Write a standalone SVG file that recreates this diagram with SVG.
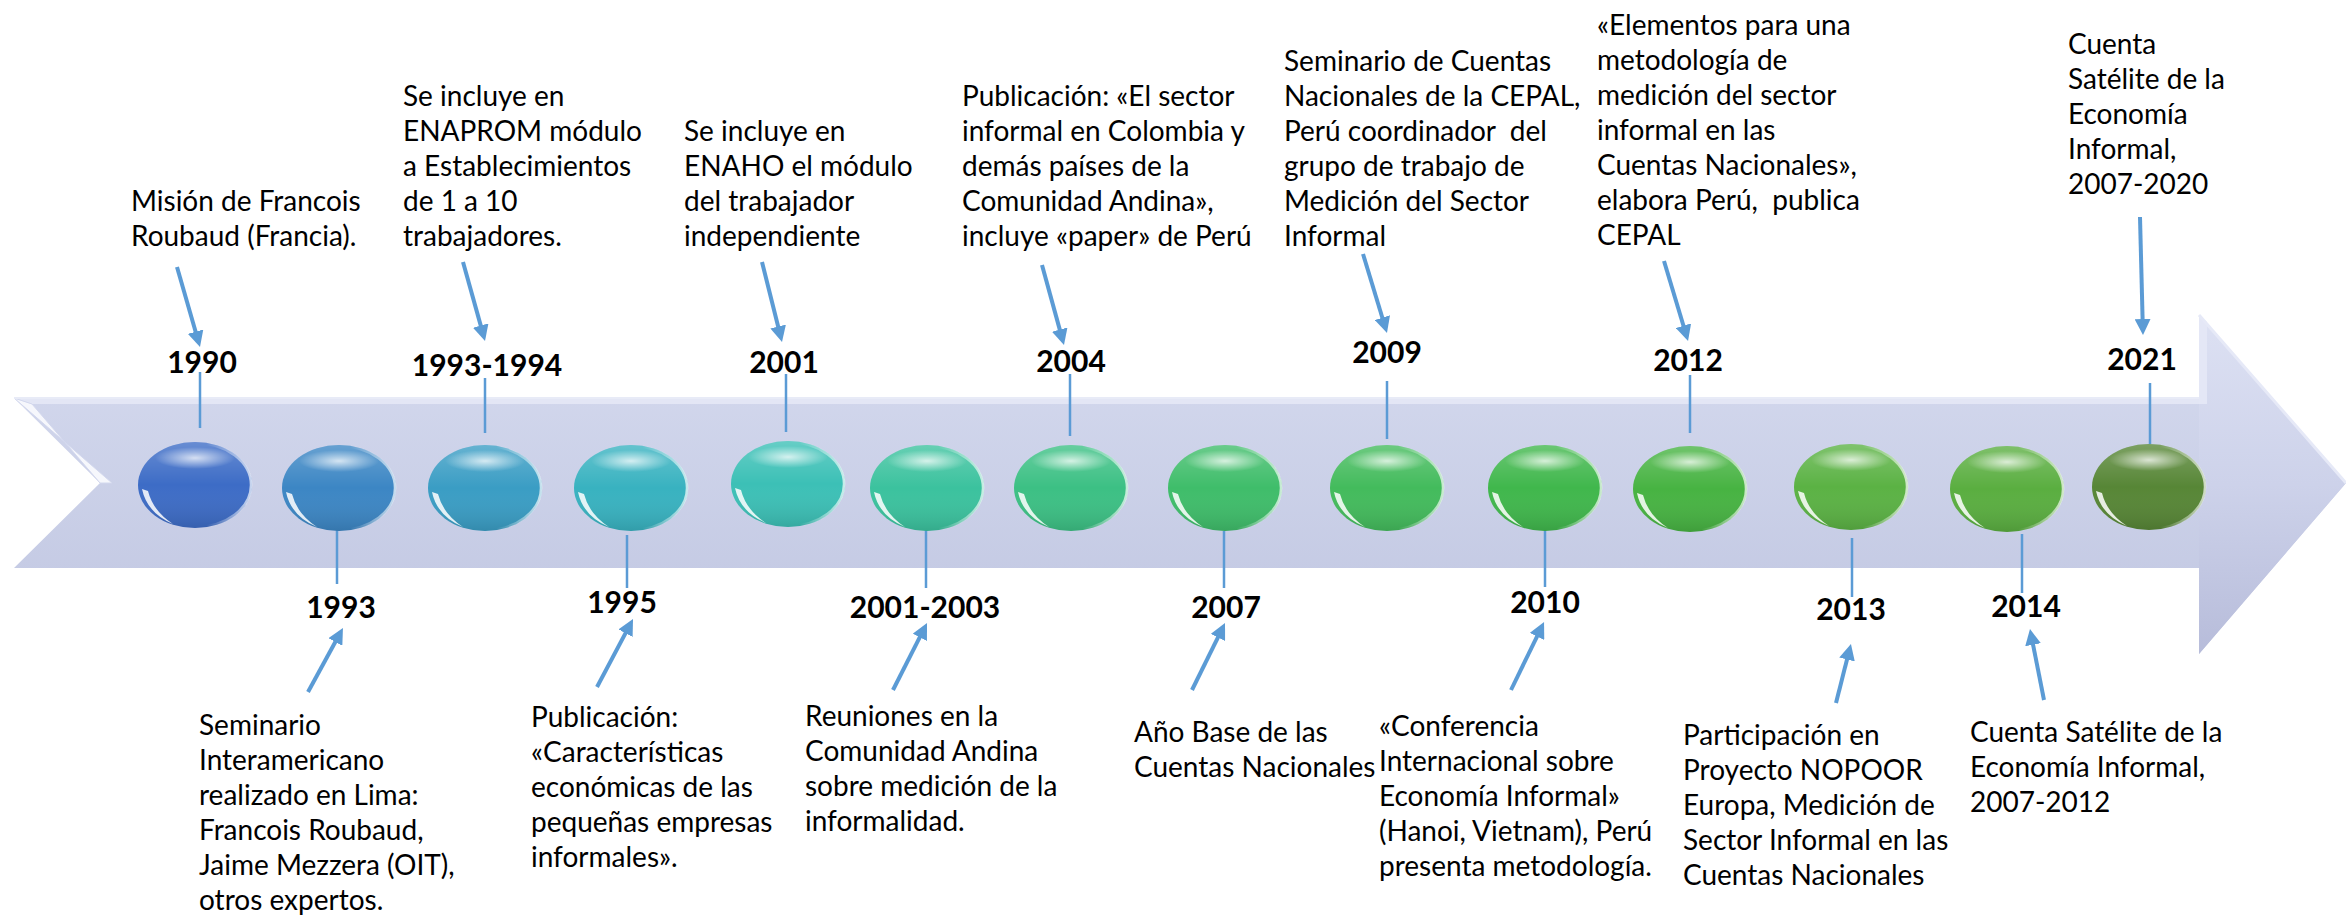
<svg xmlns="http://www.w3.org/2000/svg" xmlns:xlink="http://www.w3.org/1999/xlink" width="2346" height="916" viewBox="0 0 2346 916">
<defs>
<style>
.desc{font-family:Lato,"Liberation Sans",sans-serif;font-size:28px;fill:#000}
.year{font-family:Lato,"Liberation Sans",sans-serif;font-size:30px;font-weight:bold;fill:#000;text-anchor:middle}
.tick{stroke:#5b9bd5;stroke-width:2.5;fill:none}
.arr{stroke:#5b9bd5;stroke-width:4;fill:none;marker-end:url(#head)}
</style>
<marker id="head" markerUnits="userSpaceOnUse" viewBox="0 0 16 16" markerWidth="16" markerHeight="16" refX="4" refY="8" orient="auto">
<path d="M0,0 L16,8 L0,16 Z" fill="#5b9bd5"/>
</marker>
<linearGradient id="body" x1="0" y1="0" x2="0" y2="1">
<stop offset="0" stop-color="#d6dbef"/>
<stop offset="1" stop-color="#c0c6e1"/>
</linearGradient>
<linearGradient id="headg" x1="0" y1="0" x2="0" y2="1">
<stop offset="0" stop-color="#dde1f3"/>
<stop offset="0.5" stop-color="#cdd2ea"/>
<stop offset="1" stop-color="#b7bcda"/>
</linearGradient>
<linearGradient id="shade" x1="0" y1="0" x2="0" y2="1">
<stop offset="0" stop-color="#ffffff" stop-opacity="0.22"/>
<stop offset="0.5" stop-color="#ffffff" stop-opacity="0"/>
<stop offset="1" stop-color="#000000" stop-opacity="0.12"/>
</linearGradient>
<radialGradient id="hl" cx="0.5" cy="0.5" r="0.5">
<stop offset="0" stop-color="#ffffff" stop-opacity="0.75"/>
<stop offset="1" stop-color="#ffffff" stop-opacity="0"/>
</radialGradient>
<linearGradient id="rim" x1="0" y1="0" x2="1" y2="0">
<stop offset="0.6" stop-color="#ffffff" stop-opacity="0"/>
<stop offset="1" stop-color="#ffffff" stop-opacity="0.7"/>
</linearGradient>
<g id="gloss">
<ellipse rx="57" ry="43" fill="url(#shade)"/>
<ellipse cx="0" cy="-27" rx="40" ry="11" fill="url(#hl)"/>
<ellipse rx="56" ry="42" fill="none" stroke="url(#rim)" stroke-width="2.5"/>
<path d="M-53,4 Q-48,28 -22,39 Q-42,26 -47,6 Z" fill="#ffffff" fill-opacity="0.85"/>
</g>
</defs>

<g id="timeline-arrow">
<path d="M14,398 L2199,398 L2199,315 L2346,483 L2199,654 L2199,568 L14,568 L100,483 Z" fill="url(#body)"/>
<path d="M2199,315 L2346,483 L2199,654 Z" fill="url(#headg)"/>
<path d="M14,398 L2199,398 L2199,404 L32,404 Z" fill="#e3e6f5"/>
<path d="M14,398 L112,483 L100,483 L32,404 Z" fill="#f6f7fc" stroke="#d3d8ee" stroke-width="1"/>
<path d="M2199,315 L2207,322 L2207,404 L2199,404 Z" fill="#e4e7f6"/>
<path d="M2199,315 L2346,483" stroke="#e6e9f7" stroke-width="3" fill="none"/>
<path d="M14,398 L2199,398" stroke="#e8ebf7" stroke-width="2" fill="none"/>
</g>

<g id="connectors">
<line class="tick" x1="200" y1="372" x2="200" y2="428"/>
<line class="tick" x1="485" y1="378" x2="485" y2="433"/>
<line class="tick" x1="786" y1="374" x2="786" y2="432"/>
<line class="tick" x1="1070" y1="374" x2="1070" y2="436"/>
<line class="tick" x1="1387" y1="381" x2="1387" y2="439"/>
<line class="tick" x1="1690" y1="375" x2="1690" y2="433"/>
<line class="tick" x1="2150" y1="383" x2="2150" y2="444"/>
<line class="tick" x1="337" y1="527" x2="337" y2="584"/>
<line class="tick" x1="627" y1="535" x2="627" y2="588"/>
<line class="tick" x1="926" y1="529" x2="926" y2="588"/>
<line class="tick" x1="1224" y1="531" x2="1224" y2="588"/>
<line class="tick" x1="1545" y1="530" x2="1545" y2="587"/>
<line class="tick" x1="1852" y1="538" x2="1852" y2="597"/>
<line class="tick" x1="2022" y1="534" x2="2022" y2="593"/>
<line class="arr" x1="177" y1="267" x2="196.7" y2="335.5"/>
<line class="arr" x1="463" y1="262" x2="481.8" y2="329.4"/>
<line class="arr" x1="762" y1="262" x2="779.1" y2="330.4"/>
<line class="arr" x1="1042" y1="265" x2="1060.8" y2="333.4"/>
<line class="arr" x1="1363" y1="254" x2="1383.5" y2="321.5"/>
<line class="arr" x1="1664" y1="261" x2="1684.6" y2="329.5"/>
<line class="arr" x1="2140" y1="217" x2="2142.7" y2="323"/>
<line class="arr" x1="308" y1="692" x2="337.2" y2="638.5"/>
<line class="arr" x1="597" y1="687" x2="627.4" y2="629.6"/>
<line class="arr" x1="893" y1="690" x2="921.6" y2="633.7"/>
<line class="arr" x1="1192" y1="690" x2="1219.7" y2="633.8"/>
<line class="arr" x1="1511" y1="690" x2="1538.8" y2="632.8"/>
<line class="arr" x1="1836" y1="703" x2="1848" y2="655.6"/>
<line class="arr" x1="2044" y1="700" x2="2032.3" y2="640.8"/>
</g>

<g id="event-1990">
<g transform="translate(195,485)"><ellipse rx="57" ry="43" fill="#3d6cc6"/><use xlink:href="#gloss"/></g>
<text class="year" x="202" y="373">1990</text>
<text class="desc"><tspan x="131" y="211">Misión de Francois</tspan><tspan x="131" y="246">Roubaud (Francia).</tspan></text>
</g>

<g id="event-1993">
<g transform="translate(339,488)"><ellipse rx="57" ry="43" fill="#3c86c4"/><use xlink:href="#gloss"/></g>
<text class="year" x="341" y="618">1993</text>
<text class="desc"><tspan x="199" y="735">Seminario</tspan><tspan x="199" y="770">Interamericano</tspan><tspan x="199" y="805">realizado en Lima:</tspan><tspan x="199" y="840">Francois Roubaud,</tspan><tspan x="199" y="875">Jaime Mezzera (OIT),</tspan><tspan x="199" y="910">otros expertos.</tspan></text>
</g>

<g id="event-1993-1994">
<g transform="translate(485,488)"><ellipse rx="57" ry="43" fill="#3a9dc4"/><use xlink:href="#gloss"/></g>
<text class="year" x="487" y="376">1993-1994</text>
<text class="desc"><tspan x="403" y="106">Se incluye en</tspan><tspan x="403" y="141">ENAPROM módulo</tspan><tspan x="403" y="176">a Establecimientos</tspan><tspan x="403" y="211">de 1 a 10</tspan><tspan x="403" y="246">trabajadores.</tspan></text>
</g>

<g id="event-1995">
<g transform="translate(631,488)"><ellipse rx="57" ry="43" fill="#38b2c0"/><use xlink:href="#gloss"/></g>
<text class="year" x="622" y="613">1995</text>
<text class="desc"><tspan x="531" y="727">Publicación:</tspan><tspan x="531" y="762">«Características</tspan><tspan x="531" y="797">económicas de las</tspan><tspan x="531" y="832">pequeñas empresas</tspan><tspan x="531" y="867">informales».</tspan></text>
</g>

<g id="event-2001">
<g transform="translate(788,484)"><ellipse rx="57" ry="43" fill="#3cc0b6"/><use xlink:href="#gloss"/></g>
<text class="year" x="784" y="373">2001</text>
<text class="desc"><tspan x="684" y="141">Se incluye en</tspan><tspan x="684" y="176">ENAHO el módulo</tspan><tspan x="684" y="211">del trabajador</tspan><tspan x="684" y="246">independiente</tspan></text>
</g>

<g id="event-2001-2003">
<g transform="translate(927,488)"><ellipse rx="57" ry="43" fill="#3bc29e"/><use xlink:href="#gloss"/></g>
<text class="year" x="925" y="618">2001-2003</text>
<text class="desc"><tspan x="805" y="726">Reuniones en la</tspan><tspan x="805" y="761">Comunidad Andina</tspan><tspan x="805" y="796">sobre medición de la</tspan><tspan x="805" y="831">informalidad.</tspan></text>
</g>

<g id="event-2004">
<g transform="translate(1071,488)"><ellipse rx="57" ry="43" fill="#3cc084"/><use xlink:href="#gloss"/></g>
<text class="year" x="1071" y="372">2004</text>
<text class="desc"><tspan x="962" y="106">Publicación: «El sector</tspan><tspan x="962" y="141">informal en Colombia y</tspan><tspan x="962" y="176">demás países de la</tspan><tspan x="962" y="211">Comunidad Andina»,</tspan><tspan x="962" y="246">incluye «paper» de Perú</tspan></text>
</g>

<g id="event-2007">
<g transform="translate(1225,488)"><ellipse rx="57" ry="43" fill="#3fbd6a"/><use xlink:href="#gloss"/></g>
<text class="year" x="1226" y="618">2007</text>
<text class="desc"><tspan x="1134" y="742">Año Base de las</tspan><tspan x="1134" y="777">Cuentas Nacionales</tspan></text>
</g>

<g id="event-2009">
<g transform="translate(1387,488)"><ellipse rx="57" ry="43" fill="#43bb5c"/><use xlink:href="#gloss"/></g>
<text class="year" x="1387" y="363">2009</text>
<text class="desc"><tspan x="1284" y="71">Seminario de Cuentas</tspan><tspan x="1284" y="106">Nacionales de la CEPAL,</tspan><tspan x="1284" y="141" xml:space="preserve">Perú coordinador  del</tspan><tspan x="1284" y="176">grupo de trabajo de</tspan><tspan x="1284" y="211">Medición del Sector</tspan><tspan x="1284" y="246">Informal</tspan></text>
</g>

<g id="event-2010">
<g transform="translate(1545,488)"><ellipse rx="57" ry="43" fill="#40b74c"/><use xlink:href="#gloss"/></g>
<text class="year" x="1545" y="613">2010</text>
<text class="desc"><tspan x="1379" y="736">«Conferencia</tspan><tspan x="1379" y="771">Internacional sobre</tspan><tspan x="1379" y="806">Economía Informal»</tspan><tspan x="1379" y="841">(Hanoi, Vietnam), Perú</tspan><tspan x="1379" y="876">presenta metodología.</tspan></text>
</g>

<g id="event-2012">
<g transform="translate(1690,489)"><ellipse rx="57" ry="43" fill="#47b342"/><use xlink:href="#gloss"/></g>
<text class="year" x="1688" y="371">2012</text>
<text class="desc"><tspan x="1597" y="35">«Elementos para una</tspan><tspan x="1597" y="70">metodología de</tspan><tspan x="1597" y="105">medición del sector</tspan><tspan x="1597" y="140">informal en las</tspan><tspan x="1597" y="175">Cuentas Nacionales»,</tspan><tspan x="1597" y="210" xml:space="preserve">elabora Perú,  publica</tspan><tspan x="1597" y="245">CEPAL</tspan></text>
</g>

<g id="event-2013">
<g transform="translate(1851,487)"><ellipse rx="57" ry="43" fill="#5bb244"/><use xlink:href="#gloss"/></g>
<text class="year" x="1851" y="620">2013</text>
<text class="desc"><tspan x="1683" y="745">Participación en</tspan><tspan x="1683" y="780">Proyecto NOPOOR</tspan><tspan x="1683" y="815">Europa, Medición de</tspan><tspan x="1683" y="850">Sector Informal en las</tspan><tspan x="1683" y="885">Cuentas Nacionales</tspan></text>
</g>

<g id="event-2014">
<g transform="translate(2007,489)"><ellipse rx="57" ry="43" fill="#5aae40"/><use xlink:href="#gloss"/></g>
<text class="year" x="2026" y="617">2014</text>
<text class="desc"><tspan x="1970" y="742">Cuenta Satélite de la</tspan><tspan x="1970" y="777">Economía Informal,</tspan><tspan x="1970" y="812">2007-2012</tspan></text>
</g>

<g id="event-2021">
<g transform="translate(2149,487)"><ellipse rx="57" ry="43" fill="#578636"/><use xlink:href="#gloss"/></g>
<text class="year" x="2142" y="370">2021</text>
<text class="desc"><tspan x="2068" y="54">Cuenta</tspan><tspan x="2068" y="89">Satélite de la</tspan><tspan x="2068" y="124">Economía</tspan><tspan x="2068" y="159">Informal,</tspan><tspan x="2068" y="194">2007-2020</tspan></text>
</g>
</svg>
